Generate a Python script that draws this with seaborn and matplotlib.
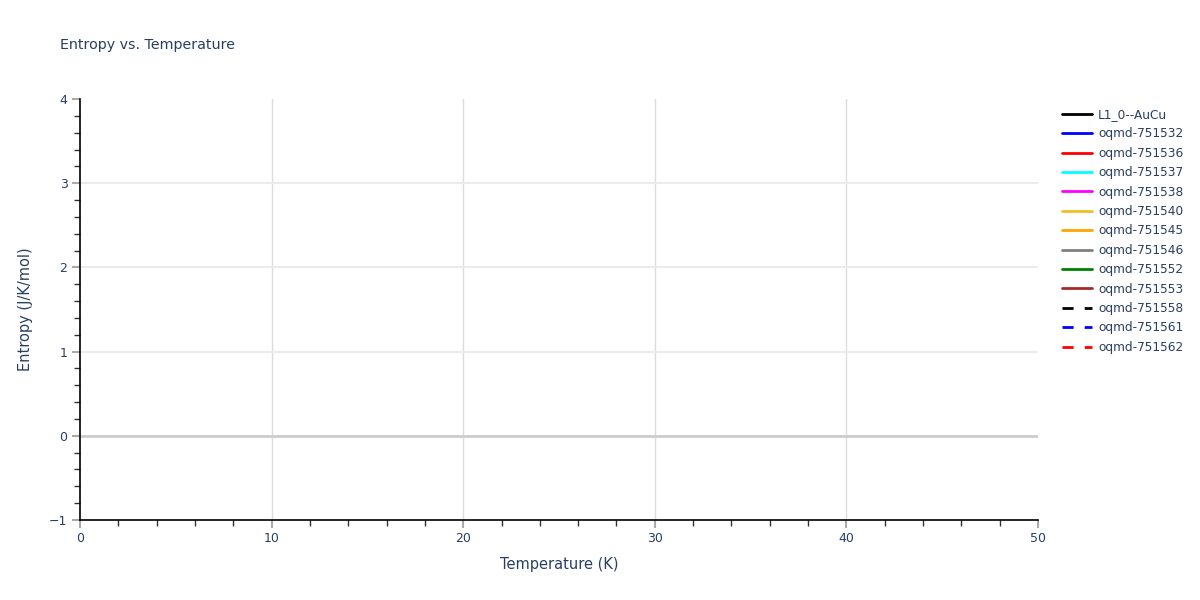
import matplotlib
matplotlib.use("Agg")
import matplotlib.pyplot as plt
import seaborn as sns
from matplotlib.ticker import MultipleLocator

# Series shown in the legend; the reference shows no plotted points for any of them
series_names = [
    "L1_0--AuCu", "oqmd-751532", "oqmd-751536", "oqmd-751537", "oqmd-751538",
    "oqmd-751540", "oqmd-751545", "oqmd-751546", "oqmd-751552", "oqmd-751553",
    "oqmd-751558", "oqmd-751561", "oqmd-751562",
]
series_colors = [
    "black", "blue", "red", "cyan", "magenta", "#f0c020", "orange", "gray",
    "green", "brown", "black", "blue", "red",
]
series_dashed = [False] * 10 + [True] * 3
temperature = {name: [] for name in series_names}
entropy = {name: [] for name in series_names}

x_range = (0, 50)
y_range = (-1, 4)

sns.set_theme(style="white")
plt.rcParams["font.family"] = ["DejaVu Sans"]
text_color = "#2a3f5f"

fig = plt.figure(figsize=(12, 6), dpi=100)
ax = fig.add_axes([80 / 1200, 1 - 520 / 600, (1038 - 80) / 1200, (520 - 99) / 600])

for name, color, dashed in zip(series_names, series_colors, series_dashed):
    ax.plot(temperature[name], entropy[name], color=color, lw=2,
            ls=(0, (4, 4)) if dashed else "-", label=name)

ax.set_xlim(*x_range)
ax.set_ylim(*y_range)
ax.xaxis.set_major_locator(MultipleLocator(10))
ax.xaxis.set_minor_locator(MultipleLocator(2))
ax.yaxis.set_major_locator(MultipleLocator(1))
ax.yaxis.set_minor_locator(MultipleLocator(0.2))

ax.grid(False)
for xv in range(10, 50, 10):
    ax.axvline(xv, color="#dddddd", lw=1, zorder=0)
for yv in (1, 2, 3):
    ax.axhline(yv, color="#ebebeb", lw=1.5, zorder=0)
ax.axhline(0, color="#cccccc", lw=2, zorder=0)

for side in ("top", "right"):
    ax.spines[side].set_visible(False)
for side in ("left", "bottom"):
    ax.spines[side].set_color("black")
    ax.spines[side].set_linewidth(1.2)

ax.tick_params(which="major", direction="out", length=6, width=1.5, color="#aaaaaa",
               labelsize=9, labelcolor=text_color, pad=3, left=True, bottom=True)
ax.tick_params(which="minor", direction="out", length=4, width=1, color="#333333",
               left=True, bottom=True)
ax.set_yticks(range(-1, 5))
ax.set_yticklabels(["\u22121", "0", "1", "2", "3", "4"])

ax.set_xlabel("Temperature (K)", fontsize=10.5, color=text_color, labelpad=8)
ax.set_ylabel("Entropy (J/K/mol)", fontsize=10.5, color=text_color)
ax.yaxis.set_label_coords(-47 / 958, 0.5)
fig.text(60 / 1200, 1 - 45 / 600, "Entropy vs. Temperature", fontsize=10.3,
         color=text_color, ha="left", va="center")

leg = ax.legend(loc="upper left", bbox_to_anchor=(1.0198, 0.99), frameon=False,
                fontsize=8.7, handlelength=2.5, handletextpad=0.5,
                labelspacing=0.53, borderaxespad=0)
for t in leg.get_texts():
    t.set_color(text_color)

fig.savefig("out.png", dpi=100)
